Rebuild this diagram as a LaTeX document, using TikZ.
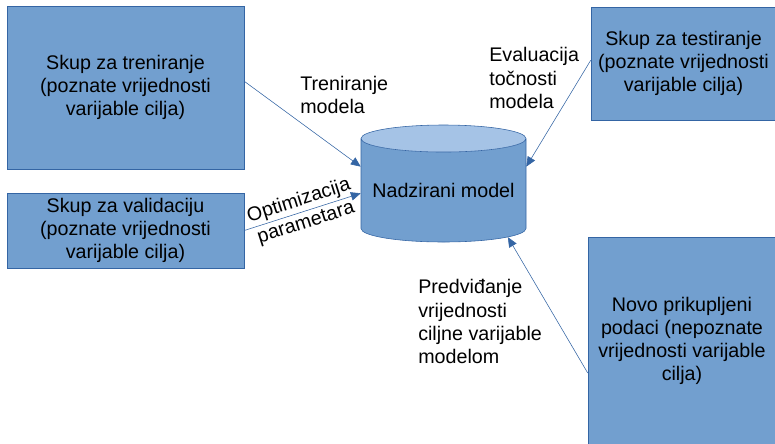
\documentclass[tikz,border=0pt]{standalone}
\usepackage{fontspec}
\setmainfont{Liberation Sans}
\usetikzlibrary{shapes.geometric,arrows.meta}

\definecolor{skupfill}{HTML}{729FCF}
\definecolor{skupline}{HTML}{3465A4}
\definecolor{modeltop}{HTML}{A5C3E6}

\tikzset{
	skup/.style={draw=skupline, fill=skupfill, align=center, inner sep=0pt, font=\fontsize{14}{16.4}\selectfont},
	opis/.style={align=left, inner sep=0pt, font=\fontsize{14}{16.4}\selectfont},
	tok/.style={draw=skupline, line width=0.4pt, -{Triangle[length=7pt,width=6pt]}},
}

\begin{document}
\begin{tikzpicture}
			\useasboundingbox (0, 0) rectangle (19.375, -11.075);

			\node[skup, minimum width=5.925cm, minimum height=4.075cm] (trening) at (3.1375, -2.1875) {Skup za treniranje\\(poznate vrijednosti\\varijable cilja)};
			\node[skup, minimum width=5.925cm, minimum height=1.875cm] (validacija) at (3.1375, -5.7625) {Skup za validaciju\\(poznate vrijednosti\\varijable cilja)};
			\node[skup, minimum width=4.625cm, minimum height=2.825cm] (testiranje) at (17.0875, -1.5875) {Skup za testiranje\\(poznate vrijednosti\\varijable cilja)};
			\node[skup, minimum width=4.7cm, minimum height=5.175cm] (novo) at (17.05, -8.5125) {Novo prikupljeni\\podaci (nepoznate\\vrijednosti varijable\\cilja)};

			\node[cylinder, shape border rotate=90, aspect=0.19, draw=skupline, cylinder uses custom fill, cylinder body fill=skupfill, cylinder end fill=modeltop, minimum width=4.125cm, minimum height=2.925cm, inner sep=0pt, font=\fontsize{14}{16.4}\selectfont, anchor=shape center] (model) at (11.0875, -4.5875) {Nadzirani model};

			\node[opis] (trenopis) at (7.5, -2.375) [anchor=west] {Treniranje\\modela};
			\node[opis] (evalopis) at (12.225, -1.95) [anchor=west] {Evaluacija\\točnosti\\modela};
			\node[opis] (predopis) at (10.45, -8.0375) [anchor=west] {Predviđanje\\vrijednosti\\ciljne varijable\\modelom};

			\draw[tok] (trening.3) -- (model.164);
			\draw[tok] (validacija.east) -- node[opis, sloped, align=center] (optopis) {Optimizacija\\parametara} (model.182);
			\draw[tok] (testiranje.178) -- (model.16);
			\draw[tok] (novo.199) -- (model.324);
		\end{tikzpicture}
\end{document}
